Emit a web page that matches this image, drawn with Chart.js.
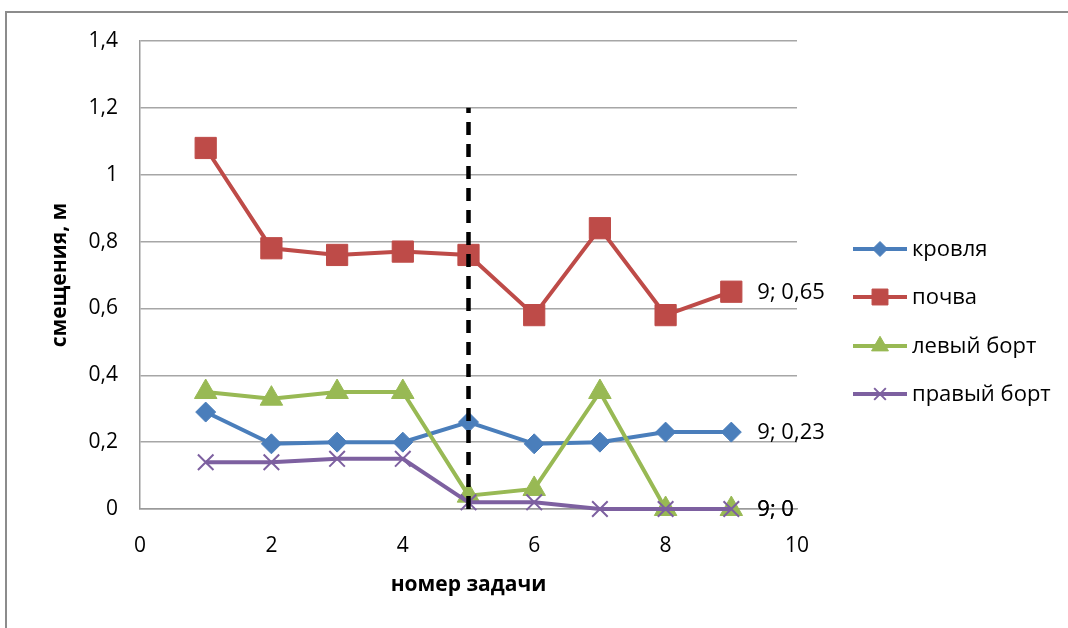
<!DOCTYPE html>
<html><head><meta charset="utf-8">
<script src="https://cdn.jsdelivr.net/npm/chart.js@4/dist/chart.umd.min.js"></script>
<style>
html,body{margin:0;padding:0;background:#fff;}
#wrap{position:relative;width:1068px;height:628px;}
#frame{position:absolute;left:5px;top:11px;width:1063px;height:617px;border-top:2px solid #8c8c8c;border-left:2px solid #8c8c8c;box-sizing:border-box;pointer-events:none;}
canvas{position:absolute;left:0;top:0;}
</style></head>
<body><div id="wrap"><canvas id="c" width="1068" height="628"></canvas><div id="frame"></div></div>
<script>
const tasks = [1,2,3,4,5,6,7,8,9];
const seriesNames = ['кровля','почва','левый борт','правый борт'];
const krovlya = [0.29,0.195,0.2,0.2,0.26,0.195,0.2,0.23,0.23];
const pochva = [1.08,0.78,0.76,0.77,0.76,0.58,0.84,0.58,0.65];
const leviy = [0.35,0.33,0.35,0.35,0.04,0.06,0.35,0,0];
const praviy = [0.14,0.14,0.15,0.15,0.02,0.02,0,0,0];
const dividerX = [5,5];
const dividerY = [0,1.2];
const xTicks = [0,2,4,6,8,10];
const yTicks = [0,0.2,0.4,0.6,0.8,1,1.2,1.4];

const FONT = '"Open Sans", Lato, sans-serif';
const colors = ['#4a7ebb','#be4b48','#98b954','#7d60a0'];
const styles = [
  {pointStyle:'rectRot', r:10},
  {pointStyle:'rect', r:15},
  {pointStyle:'triangle', r:13},
  {pointStyle:'crossRot', r:11}
];
const allVals = [krovlya,pochva,leviy,praviy];
const orders = [3,2,1,0];
const fmt = v => String(Number(v.toFixed(2))).replace('.',',');
const CLIP = {left:30,right:30,top:30,bottom:30};

const datasets = allVals.map((vals,i)=>({
  label: seriesNames[i],
  data: tasks.map((t,j)=>({x:t,y:vals[j]})),
  showLine:true,
  clip:CLIP,
  borderColor: colors[i],
  backgroundColor: colors[i],
  borderWidth: 4,
  pointStyle: styles[i].pointStyle,
  pointRadius: styles[i].r,
  pointBorderWidth: i===3 ? 2 : 1,
  pointBorderColor: colors[i],
  order: orders[i]
}));
datasets.push({
  label: '_divider',
  data: dividerX.map((x,j)=>({x:x,y:dividerY[j]})),
  showLine:true,
  clip:CLIP,
  borderColor:'#000',
  borderWidth:4.5,
  borderDash:[13,9],
  pointRadius:0,
  order:-1
});

const labelPlugin = {
  id:'endLabels',
  afterDatasetsDraw(chart){
    const ctx = chart.ctx;
    const xs = chart.scales.x, ys = chart.scales.y;
    ctx.save();
    ctx.font = '22px '+FONT;
    ctx.fillStyle = '#000';
    ctx.textBaseline = 'middle';
    ctx.textAlign = 'left';
    allVals.forEach(vals=>{
      const last = vals.length-1;
      const px = xs.getPixelForValue(tasks[last]);
      const py = ys.getPixelForValue(vals[last]);
      ctx.fillText(tasks[last]+'; '+fmt(vals[last]), px+26, py+1);
    });
    ctx.restore();
  }
};

const legendPlugin = {
  id:'customLegend',
  afterDraw(chart){
    const ctx = chart.ctx;
    ctx.save();
    const ys = [249,297,346,394];
    ctx.font = '22px '+FONT;
    ctx.textBaseline = 'middle';
    chart.data.datasets.slice(0,4).forEach((ds,i)=>{
      const y = ys[i];
      ctx.strokeStyle = ds.borderColor;
      ctx.lineWidth = 4;
      ctx.beginPath(); ctx.moveTo(853,y); ctx.lineTo(907,y); ctx.stroke();
      ctx.fillStyle = ds.backgroundColor;
      ctx.lineWidth = ds.pointBorderWidth;
      Chart.helpers.drawPoint(ctx,{pointStyle:ds.pointStyle,rotation:0,radius:ds.pointRadius*0.75,borderWidth:ds.pointBorderWidth},880,y);
      ctx.fillStyle = '#000';
      ctx.fillText(ds.label, 912, y+1);
    });
    ctx.restore();
  }
};

new Chart(document.getElementById('c'),{
  type:'scatter',
  data:{datasets},
  plugins:[labelPlugin,legendPlugin],
  options:{
    responsive:false,
    animation:false,
    events:[],
    layout:{padding:{left:0,top:41,right:271,bottom:0}},
    plugins:{legend:{display:false},tooltip:{enabled:false}},
    scales:{
      x:{
        type:'linear',min:0,max:10,
        afterBuildTicks(s){ s.ticks = xTicks.map(v=>({value:v})); },
        afterFit(s){ s.height = 119; },
        grid:{display:false,drawTicks:false},
        border:{display:true,color:'#9a9a9a',width:1.5},
        ticks:{color:'#000',font:{family:FONT,size:21},padding:24,callback:v=>fmt(v)},
        title:{display:true,text:'номер задачи',color:'#000',font:{family:FONT,size:21,weight:'bold'},padding:{top:0,bottom:30}}
      },
      y:{
        type:'linear',min:0,max:1.4,
        afterBuildTicks(s){ s.ticks = yTicks.map(v=>({value:v})); },
        afterFit(s){ s.width = 140; },
        grid:{color:'#a6a6a6',lineWidth:1.5,drawTicks:false},
        border:{display:true,color:'#9a9a9a',width:1.5},
        ticks:{color:'#000',font:{family:FONT,size:21},padding:22,callback:v=>fmt(v)},
        title:{display:true,text:'смещения, м',color:'#000',font:{family:FONT,size:21,weight:'bold'},padding:{top:47,bottom:0}}
      }
    }
  }
});
</script></body></html>
